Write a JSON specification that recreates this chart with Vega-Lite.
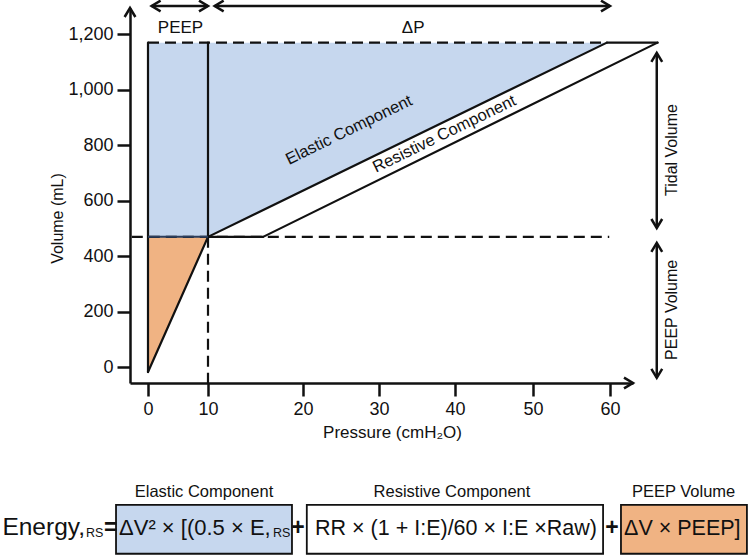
{
  "$schema": "https://vega.github.io/schema/vega-lite/v6.json",
  "width": 503,
  "height": 375,
  "autosize": "none",
  "padding": {"left": 130, "top": 8, "right": 119, "bottom": 177},
  "background": "white",
  "config": {
    "view": {"stroke": null},
    "font": "Liberation Sans",
    "text": {"font": "Liberation Sans", "color": "#111111"}
  },
  "datasets": {
    "blue": [
      {"x": 0, "y": 470, "y2": 1170},
      {"x": 10, "y": 470, "y2": 1170},
      {"x": 59.6, "y": 1170, "y2": 1170}
    ],
    "orange": [
      {"x": 0, "y": -17, "y2": 470},
      {"x": 10, "y": 470, "y2": 470}
    ],
    "dashed": [
      {"x": 0, "y": 1170, "x2": 59.6, "y2": 1170},
      {"x": -2.7, "y": 470, "x2": 59.9, "y2": 470},
      {"x": 10, "y": 470, "x2": 10, "y2": -56.6}
    ],
    "solid": [
      {"x": 0, "y": -17, "x2": 0, "y2": 1170},
      {"x": 10, "y": 470, "x2": 10, "y2": 1170},
      {"x": 0, "y": -17, "x2": 10, "y2": 470},
      {"x": 10, "y": 470, "x2": 15.8, "y2": 470},
      {"x": 10, "y": 470, "x2": 59.6, "y2": 1170},
      {"x": 15.8, "y": 470, "x2": 66.2, "y2": 1170},
      {"x": 59.6, "y": 1170, "x2": 66.2, "y2": 1170}
    ],
    "boundary": [{"x": 0, "y": 470, "x2": 10, "y2": 470}],
    "shafts": [
      {"x": 0.6, "y": 1302, "x2": 10, "y2": 1302},
      {"x": 10.7, "y": 1302, "x2": 60, "y2": 1302},
      {"x": 66.1, "y": 1133, "x2": 66.1, "y2": 502},
      {"x": 66.1, "y": 448, "x2": 66.1, "y2": -38}
    ],
    "headRight": [{"x": 10, "y": 1302}, {"x": 60, "y": 1302}, {"x": 63, "y": -56.6}],
    "headLeft": [{"x": 0.6, "y": 1302}, {"x": 10.7, "y": 1302}],
    "headUp": [{"x": -3, "y": 1294.8}, {"x": 66.1, "y": 1133}, {"x": 66.1, "y": 448}],
    "headDown": [{"x": 66.1, "y": 502}, {"x": 66.1, "y": -38}],
    "topLabels": [
      {"x": 5.42, "y": 1203.6, "label": "PEEP"},
      {"x": 34.5, "y": 1203.6, "label": "ΔP"}
    ],
    "sideLabels": [
      {"x": 68.05, "y": 783, "label": "Tidal Volume"},
      {"x": 68.05, "y": 207, "label": "PEEP Volume"}
    ],
    "lineLabels": [
      {"x": 26.05, "y": 855, "label": "Elastic Component"},
      {"x": 38.6, "y": 840.7, "label": "Resistive Component"}
    ],
    "boxes": [
      {"part": "Elastic", "x": -5.33, "x2": 18.84, "y": -496, "y2": -672},
      {"part": "Resistive", "x": 20.5, "x2": 59.1, "y": -496, "y2": -672},
      {"part": "PEEP", "x": 61.43, "x2": 77.86, "y": -496, "y2": -672}
    ],
    "boxTitles": [
      {"x": 9.33, "y": -466, "label": "Elastic Component"},
      {"x": 39.6, "y": -466, "label": "Resistive Component"},
      {"x": 69.6, "y": -466, "label": "PEEP Volume"}
    ],
    "elasticTerm": [{"x": -4.83, "y": -604.3, "label": "ΔV² × [(0.5 × E,"}],
    "terms": [
      {"x": 21.58, "y": -604.3, "label": "RR × (1 + I:E)/60 × I:E ×Raw)"},
      {"x": 61.83, "y": -604.3, "label": "ΔV × PEEP]"}
    ],
    "energy": [{"x": -10.5, "y": -604.3, "label": "Energy,"}],
    "subs": [
      {"x": -10.33, "y": -611.5, "label": "RS"},
      {"x": 16.84, "y": -611.5, "label": "RS"}
    ],
    "ops": [
      {"x": -6.2, "y": -604.3, "label": "="},
      {"x": 19.47, "y": -604.3, "label": "+"},
      {"x": 60.26, "y": -604.3, "label": "+"}
    ]
  },
  "encoding": {
    "x": {
      "field": "x",
      "type": "quantitative",
      "scale": {
        "type": "linear",
        "domain": [-3, 0, 10, 20, 30, 40, 50, 60, 63],
        "range": [0, 18, 78, 173, 249, 325, 403, 480, 503],
        "nice": false,
        "zero": false
      },
      "axis": {
        "values": [0, 10, 20, 30, 40, 50, 60],
        "grid": false,
        "domainColor": "#111111",
        "domainWidth": 2.5,
        "tickColor": "#111111",
        "tickWidth": 2.5,
        "tickSize": 13,
        "labelFont": "Liberation Sans",
        "labelFontSize": 18,
        "labelColor": "#111111",
        "labelPadding": 4,
        "labelFlush": false,
        "labelOverlap": false,
        "title": "Pressure (cmH₂O)",
        "titleFont": "Liberation Sans",
        "titleFontSize": 17,
        "titleFontWeight": "normal",
        "titleColor": "#111111",
        "titlePadding": 6,
        "titleX": 262
      }
    },
    "y": {
      "field": "y",
      "type": "quantitative",
      "scale": {"domain": [-56.6, 1294.8], "nice": false, "zero": false},
      "axis": {
        "values": [0, 200, 400, 600, 800, 1000, 1200],
        "format": ",.0f",
        "grid": false,
        "domainColor": "#111111",
        "domainWidth": 2.5,
        "tickColor": "#111111",
        "tickWidth": 2.5,
        "tickSize": 13,
        "labelFont": "Liberation Sans",
        "labelFontSize": 18,
        "labelColor": "#111111",
        "labelPadding": 4,
        "labelFlush": false,
        "labelOverlap": false,
        "title": "Volume (mL)",
        "titleFont": "Liberation Sans",
        "titleFontSize": 16,
        "titleFontWeight": "normal",
        "titleColor": "#111111",
        "titlePadding": 2,
        "titleY": 210
      }
    }
  },
  "layer": [
    {
      "data": {"name": "blue"},
      "mark": {"type": "area", "fill": "#c6d7ee", "opacity": 1},
      "encoding": {"y2": {"field": "y2"}}
    },
    {
      "data": {"name": "orange"},
      "mark": {"type": "area", "fill": "#f0b383", "opacity": 1},
      "encoding": {"y2": {"field": "y2"}}
    },
    {
      "data": {"name": "dashed"},
      "mark": {"type": "rule", "color": "#111111", "strokeWidth": 2.2, "strokeDash": [11, 6]},
      "encoding": {"x2": {"field": "x2"}, "y2": {"field": "y2"}}
    },
    {
      "data": {"name": "solid"},
      "mark": {"type": "rule", "color": "#111111", "strokeWidth": 2.2, "strokeCap": "round"},
      "encoding": {"x2": {"field": "x2"}, "y2": {"field": "y2"}}
    },
    {
      "data": {"name": "boundary"},
      "mark": {"type": "rule", "color": "#2c3e5c", "strokeWidth": 2},
      "encoding": {"x2": {"field": "x2"}, "y2": {"field": "y2"}}
    },
    {
      "data": {"name": "shafts"},
      "mark": {"type": "rule", "color": "#111111", "strokeWidth": 2.5},
      "encoding": {"x2": {"field": "x2"}, "y2": {"field": "y2"}}
    },
    {
      "data": {"name": "headRight"},
      "mark": {"type": "point", "shape": "M-1,-0.6L0,0L-1,0.6", "size": 324, "filled": false, "stroke": "#111111", "strokeWidth": 2.5, "opacity": 1}
    },
    {
      "data": {"name": "headLeft"},
      "mark": {"type": "point", "shape": "M1,-0.6L0,0L1,0.6", "size": 324, "filled": false, "stroke": "#111111", "strokeWidth": 2.5, "opacity": 1}
    },
    {
      "data": {"name": "headUp"},
      "mark": {"type": "point", "shape": "M-0.6,1L0,0L0.6,1", "size": 324, "filled": false, "stroke": "#111111", "strokeWidth": 2.5, "opacity": 1}
    },
    {
      "data": {"name": "headDown"},
      "mark": {"type": "point", "shape": "M-0.6,-1L0,0L0.6,-1", "size": 324, "filled": false, "stroke": "#111111", "strokeWidth": 2.5, "opacity": 1}
    },
    {
      "data": {"name": "topLabels"},
      "mark": {"type": "text", "fontSize": 17, "align": "center", "baseline": "alphabetic"},
      "encoding": {"text": {"field": "label"}}
    },
    {
      "data": {"name": "sideLabels"},
      "mark": {"type": "text", "fontSize": 16, "align": "center", "baseline": "middle", "angle": 270},
      "encoding": {"text": {"field": "label"}}
    },
    {
      "data": {"name": "lineLabels"},
      "mark": {"type": "text", "fontSize": 16.5, "align": "center", "baseline": "middle", "angle": 334},
      "encoding": {"text": {"field": "label"}}
    },
    {
      "data": {"name": "boxes"},
      "mark": {"type": "rect", "stroke": "#111111", "strokeWidth": 1.8, "opacity": 1},
      "encoding": {
        "x2": {"field": "x2"},
        "y2": {"field": "y2"},
        "fill": {
          "field": "part",
          "type": "nominal",
          "scale": {"domain": ["Elastic", "Resistive", "PEEP"], "range": ["#c6d7ee", "#ffffff", "#f0b383"]},
          "legend": null
        }
      }
    },
    {
      "data": {"name": "boxTitles"},
      "mark": {"type": "text", "fontSize": 16.5, "align": "center", "baseline": "alphabetic"},
      "encoding": {"text": {"field": "label"}}
    },
    {
      "data": {"name": "elasticTerm"},
      "mark": {"type": "text", "fontSize": 22, "align": "left", "baseline": "alphabetic"},
      "encoding": {"text": {"field": "label"}}
    },
    {
      "data": {"name": "terms"},
      "mark": {"type": "text", "fontSize": 21.5, "align": "left", "baseline": "alphabetic"},
      "encoding": {"text": {"field": "label"}}
    },
    {
      "data": {"name": "energy"},
      "mark": {"type": "text", "fontSize": 24.5, "align": "right", "baseline": "alphabetic"},
      "encoding": {"text": {"field": "label"}}
    },
    {
      "data": {"name": "subs"},
      "mark": {"type": "text", "fontSize": 12.5, "align": "left", "baseline": "alphabetic"},
      "encoding": {"text": {"field": "label"}}
    },
    {
      "data": {"name": "ops"},
      "mark": {"type": "text", "fontSize": 23, "fontWeight": "bold", "align": "center", "baseline": "alphabetic"},
      "encoding": {"text": {"field": "label"}}
    }
  ]
}
